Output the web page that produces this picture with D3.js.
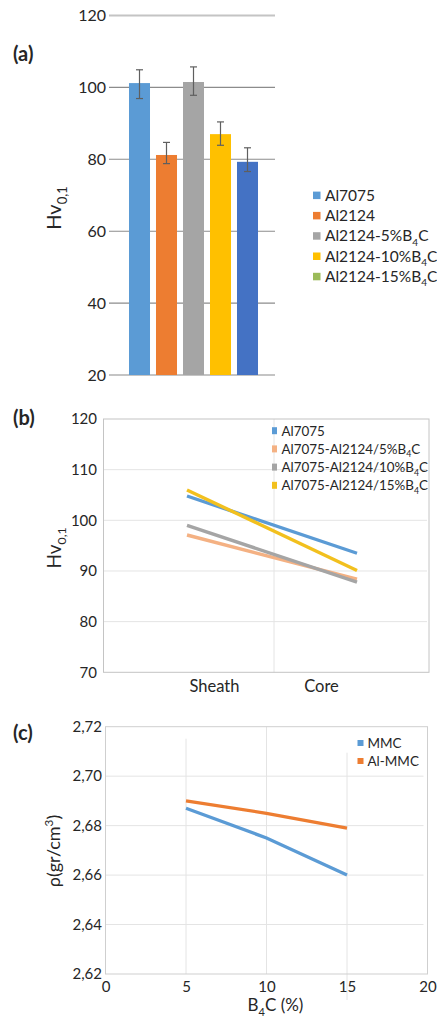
<!DOCTYPE html>
<html>
<head>
<meta charset="utf-8">
<script src="https://cdn.jsdelivr.net/npm/d3@7"></script>
<style>
  html, body { margin: 0; padding: 0; background: #fff; }
  svg { display: block; font-family: Lato, "Open Sans", sans-serif; }
</style>
</head>
<body>
<svg id="fig" width="437" height="1017"></svg>
<script>
// ---------- (a) hardness of the individual alloys ----------
const barCategories = ["Al7075", "Al2124", "Al2124-5%B_{4}C", "Al2124-10%B_{4}C", "Al2124-15%B_{4}C"];
const barValues     = [101.2, 81.2, 101.5, 87.0, 79.3];
const barErrHigh    = [104.9, 84.7, 105.7, 90.4, 83.2];
const barErrLow     = [96.9, 78.8, 97.8, 83.9, 76.6];
const barColors     = ["#5b9bd5", "#ed7d31", "#a5a5a5", "#ffc000", "#4472c4"];
const barLegendColors = ["#5b9bd5", "#ed7d31", "#a5a5a5", "#ffc000", "#9bbb59"];
const barTicks      = [20, 40, 60, 80, 100, 120];

// ---------- (b) sheath / core hardness ----------
const zoneCategories = ["Sheath", "Core"];
const zoneSeries = ["Al7075", "Al7075-Al2124/5%B_{4}C", "Al7075-Al2124/10%B_{4}C", "Al7075-Al2124/15%B_{4}C"];
const zoneValues = [
  [104.8, 93.5],
  [97.1, 88.4],
  [99.0, 87.8],
  [106.0, 90.1]
];
const zoneColors = ["#5b9bd5", "#f4b183", "#a5a5a5", "#f2c01e"];
const zoneTicks  = [70, 80, 90, 100, 110, 120];

// ---------- (c) density vs B4C content ----------
const b4cContent = [5, 10, 15];
const densitySeries = ["MMC", "Al-MMC"];
const densityValues = [
  [2.687, 2.675, 2.660],
  [2.690, 2.685, 2.679]
];
const densityColors = ["#5b9bd5", "#ed7d31"];
const densityYTicks = [2.62, 2.64, 2.66, 2.68, 2.70, 2.72];
const densityXTicks = [0, 5, 10, 15, 20];

const svg = d3.select("#fig");
const textColor = "#262626";

// Writes "B_{4}C" / "cm^{3}" style strings as text with sub/superscript tspans.
function rich(textSel, str, size) {
  const parts = str.split(/(_\{[^}]*\}|\^\{[^}]*\})/).filter(s => s.length);
  let shift = 0; // current baseline offset
  parts.forEach(p => {
    let target = 0, fs = size, content = p;
    if (p.startsWith("_{")) { target = size * 0.28; fs = size * 0.65; content = p.slice(2, -1); }
    else if (p.startsWith("^{")) { target = -size * 0.38; fs = size * 0.65; content = p.slice(2, -1); }
    const ts = textSel.append("tspan").attr("font-size", fs).text(content);
    if (target !== shift) ts.attr("dy", target - shift);
    shift = target;
  });
  return textSel;
}

function panelLabel(txt, x, y) {
  svg.append("text").attr("x", x).attr("y", y).attr("dy", "0.35em")
    .attr("font-size", 20).attr("font-weight", "bold").attr("fill", textColor).text(txt);
}

function yTitle(str, cx, cy, size) {
  const t = svg.append("text")
    .attr("transform", `translate(${cx + size * 0.35},${cy}) rotate(-90)`)
    .attr("text-anchor", "middle")
    .attr("font-size", size).attr("fill", textColor);
  rich(t, str, size);
}

// ================= (a) =================
{
  const g = svg.append("g");
  const x = d3.scaleBand().domain(barCategories).range([126, 261])
    .paddingInner(0.222).paddingOuter(0.111);
  const y = d3.scaleLinear().domain([20, 120]).range([375, 15.5]);

  // gridlines
  g.selectAll("line.grid").data(barTicks).join("line")
    .attr("x1", 109).attr("x2", 275)
    .attr("y1", d => y(d)).attr("y2", d => y(d))
    .attr("stroke", d => (d === 20 || d === 120) ? "#c4c4c4" : "#8c8c8c")
    .attr("stroke-width", d => (d === 20 || d === 120) ? 2 : 1.1);

  const yAxis = d3.axisLeft(y).tickValues(barTicks).tickSize(0).tickPadding(0);
  const ya = g.append("g").attr("transform", "translate(106,0)").call(yAxis);
  ya.select(".domain").remove();
  ya.selectAll("text").attr("font-size", 16).attr("fill", textColor)
    .attr("font-family", "Lato, sans-serif");

  g.selectAll("rect.bar").data(barValues).join("rect")
    .attr("x", (d, i) => x(barCategories[i]))
    .attr("width", x.bandwidth())
    .attr("y", d => y(d))
    .attr("height", d => y(20) - y(d))
    .attr("fill", (d, i) => barColors[i]);

  // error bars
  const eb = g.selectAll("g.err").data(barValues).join("g");
  eb.append("line")
    .attr("x1", (d, i) => x(barCategories[i]) + x.bandwidth() / 2)
    .attr("x2", (d, i) => x(barCategories[i]) + x.bandwidth() / 2)
    .attr("y1", (d, i) => y(barErrHigh[i])).attr("y2", (d, i) => y(barErrLow[i]))
    .attr("stroke", "#5f5f5f").attr("stroke-width", 1.2);
  [barErrHigh, barErrLow].forEach(arr => {
    eb.append("line")
      .attr("x1", (d, i) => x(barCategories[i]) + x.bandwidth() / 2 - 3.5)
      .attr("x2", (d, i) => x(barCategories[i]) + x.bandwidth() / 2 + 3.5)
      .attr("y1", (d, i) => y(arr[i])).attr("y2", (d, i) => y(arr[i]))
      .attr("stroke", "#5f5f5f").attr("stroke-width", 1.2);
  });

  // legend
  const lg = g.selectAll("g.leg").data(barCategories).join("g")
    .attr("transform", (d, i) => `translate(313,${195.3 + i * 20.3})`);
  lg.append("rect").attr("x", 0).attr("y", -3.7).attr("width", 7.5).attr("height", 7.5)
    .attr("fill", (d, i) => barLegendColors[i]);
  lg.append("text").attr("x", 12).attr("dy", "0.36em").attr("font-size", 15.5)
    .attr("fill", textColor).each(function (d) { rich(d3.select(this), d, 15.5); });

  panelLabel("(a)", 13, 54);
  yTitle("Hv_{0,1}", 54, 208, 20);
}

// ================= (b) =================
{
  const g = svg.append("g");
  const L = 103.5, R = 429, T = 419, B = 672.3;
  const y = d3.scaleLinear().domain([70, 120]).range([B, T]);
  const xLine = d3.scalePoint().domain(zoneCategories).range([187, 357]);
  const xLabel = d3.scalePoint().domain(zoneCategories).range([214, 321]);

  g.selectAll("line.hgrid").data(zoneTicks.filter(d => d > 70 && d < 120)).join("line")
    .attr("x1", L).attr("x2", R - 2)
    .attr("y1", d => y(d)).attr("y2", d => y(d))
    .attr("stroke", "#e4e4e4").attr("stroke-width", 1);
  const mid = (xLine("Sheath") + xLine("Core")) / 2 + 2;
  g.append("line").attr("x1", mid).attr("x2", mid).attr("y1", T).attr("y2", B)
    .attr("stroke", "#e4e4e4").attr("stroke-width", 1);

  // frame
  g.append("rect").attr("x", L).attr("y", T).attr("width", R - L).attr("height", B - T)
    .attr("fill", "none").attr("stroke", "#c4c4c4").attr("stroke-width", 1);

  const yAxis = d3.axisLeft(y).tickValues(zoneTicks).tickSize(0).tickPadding(0);
  const ya = g.append("g").attr("transform", "translate(97,0)").call(yAxis);
  ya.select(".domain").remove();
  ya.selectAll("text").attr("font-size", 15).attr("fill", textColor)
    .attr("font-family", "Lato, sans-serif");

  const xAxis = d3.axisBottom(xLabel).tickSize(0).tickPadding(0);
  const xa = g.append("g").attr("transform", `translate(0,${686})`).call(xAxis);
  xa.select(".domain").remove();
  xa.selectAll("text").attr("font-size", 16.5).attr("fill", textColor)
    .attr("dy", "0.35em").attr("font-family", "Lato, sans-serif");

  const line = d3.line().x((d, i) => xLine(zoneCategories[i])).y(d => y(d));
  g.selectAll("path.zone").data(zoneValues).join("path")
    .attr("d", line).attr("fill", "none")
    .attr("stroke", (d, i) => zoneColors[i]).attr("stroke-width", 3.4);

  const lg = g.selectAll("g.leg").data(zoneSeries).join("g")
    .attr("transform", (d, i) => `translate(272,${430.7 + i * 18.2})`);
  lg.append("rect").attr("x", 0).attr("y", -3.5).attr("width", 5).attr("height", 7)
    .attr("fill", (d, i) => zoneColors[i]);
  lg.append("text").attr("x", 9.5).attr("dy", "0.36em").attr("font-size", 13.4)
    .attr("fill", textColor).each(function (d) { rich(d3.select(this), d, 13.4); });

  panelLabel("(b)", 13, 418);
  yTitle("Hv_{0,1}", 54, 548, 19);
}

// ================= (c) =================
{
  const g = svg.append("g");
  const L = 105.5, R = 427.5, T = 726.7, B = 974;
  const x = d3.scaleLinear().domain([0, 20]).range([L, R]);
  const y = d3.scaleLinear().domain([2.62, 2.72]).range([B, T]);

  g.selectAll("line.hgrid").data(densityYTicks.filter(d => d > 2.62 && d < 2.72)).join("line")
    .attr("x1", L).attr("x2", R - 4)
    .attr("y1", d => y(d)).attr("y2", d => y(d))
    .attr("stroke", "#e4e4e4").attr("stroke-width", 1);
  // vertical gridlines, with the uneven extents of the source chart
  const vTop = { 5: 12, 10: 0, 15: 26 };
  const vBot = { 5: 0, 10: 0, 15: 26 };
  g.selectAll("line.vgrid").data(b4cContent).join("line")
    .attr("x1", d => x(d)).attr("x2", d => x(d))
    .attr("y1", d => T + vTop[d]).attr("y2", d => B + vBot[d])
    .attr("stroke", "#e4e4e4").attr("stroke-width", 1);

  g.append("rect").attr("x", L).attr("y", T).attr("width", R - L).attr("height", B - T)
    .attr("fill", "none").attr("stroke", "#cfcfcf").attr("stroke-width", 1);

  const fmt = d => d3.format(".2f")(d).replace(".", ",");
  const yAxis = d3.axisLeft(y).tickValues(densityYTicks).tickFormat(fmt).tickSize(0).tickPadding(0);
  const ya = g.append("g").attr("transform", "translate(102,0)").call(yAxis);
  ya.select(".domain").remove();
  ya.selectAll("text").attr("font-size", 15).attr("fill", textColor)
    .attr("font-family", "Lato, sans-serif");

  const xAxis = d3.axisBottom(x).tickValues(densityXTicks).tickSize(0).tickPadding(0);
  const xa = g.append("g").attr("transform", `translate(0,${987})`).call(xAxis);
  xa.select(".domain").remove();
  xa.selectAll("text").attr("font-size", 15).attr("fill", textColor)
    .attr("dy", "0.35em").attr("font-family", "Lato, sans-serif");

  const line = d3.line().x((d, i) => x(b4cContent[i])).y(d => y(d));
  g.selectAll("path.dens").data(densityValues).join("path")
    .attr("d", line).attr("fill", "none")
    .attr("stroke", (d, i) => densityColors[i]).attr("stroke-width", 3.3);

  const lg = g.selectAll("g.leg").data(densitySeries).join("g")
    .attr("transform", (d, i) => `translate(357.5,${743 + i * 18})`);
  lg.append("rect").attr("x", 0).attr("y", -3).attr("width", 6).attr("height", 6)
    .attr("fill", (d, i) => densityColors[i]);
  lg.append("text").attr("x", 10).attr("dy", "0.36em").attr("font-size", 13.5)
    .attr("fill", textColor).text(d => d);

  const xt = svg.append("text").attr("x", 275.5).attr("y", 1005 + 17 * 0.35)
    .attr("text-anchor", "middle").attr("font-size", 17).attr("fill", textColor);
  rich(xt, "B_{4}C (%)", 17);

  panelLabel("(c)", 13, 733);
  yTitle("ρ(gr/cm^{3})", 54, 851, 18);
}
</script>
</body>
</html>
